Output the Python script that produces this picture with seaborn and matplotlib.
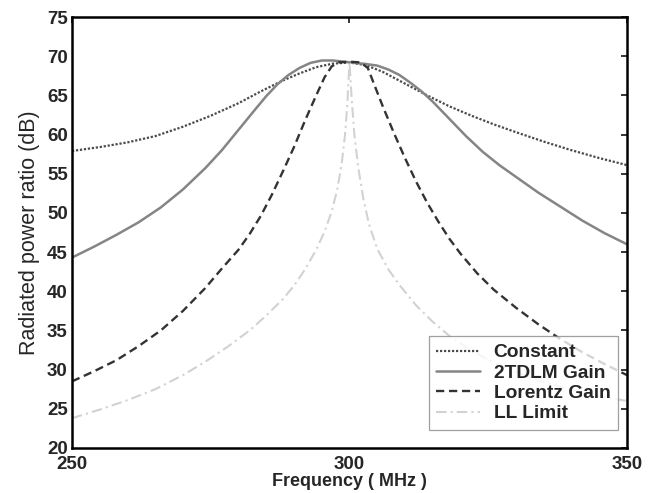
import numpy as np
import pandas as pd
import matplotlib
matplotlib.use("Agg")
import matplotlib.pyplot as plt
import seaborn as sns

# values (frequency in MHz, ratio in dB)
const_f = [250, 255, 260, 265, 270, 275, 280, 284, 288, 291, 294, 297, 300, 303, 306, 310,
           314, 318, 322, 326, 330, 335, 340, 345, 350]
const_db = [57.9, 58.4, 59.0, 59.8, 61.0, 62.4, 64.0, 65.5, 66.9, 67.8, 68.6, 69.05, 69.2, 68.85,
            68.0, 66.5, 65.0, 63.6, 62.4, 61.3, 60.3, 59.1, 58.0, 57.0, 56.1]

tdlm_f = [250, 254, 258, 262, 266, 270, 274, 277, 280, 283, 285, 287, 289, 291, 293, 295, 297,
          299, 301, 303, 305, 307, 309, 311, 313, 315, 318, 321, 324, 327, 330, 334, 338, 342,
          346, 350]
tdlm_db = [44.3, 45.7, 47.2, 48.8, 50.7, 53.0, 55.7, 58.0, 60.6, 63.2, 64.9, 66.4, 67.6, 68.5,
           69.15, 69.45, 69.45, 69.3, 69.15, 69.0, 68.8, 68.3, 67.6, 66.6, 65.5, 64.2, 62.0, 59.8,
           57.8, 56.1, 54.6, 52.6, 50.8, 49.0, 47.4, 46.0]

lor_f = [250, 254, 258, 262, 266, 270, 274, 277, 280, 282, 284, 286, 288, 290, 292, 294, 295.5,
         296.8, 298, 300, 302, 303.3, 304.5, 306, 308, 310, 312, 314, 316, 318, 320, 323, 326,
         330, 334, 338, 342, 346, 350]
lor_db = [28.5, 29.8, 31.2, 33.0, 35.0, 37.5, 40.4, 42.9, 45.3, 47.3, 49.6, 52.3, 55.3, 58.4,
          61.8, 65.0, 67.3, 68.7, 69.2, 69.3, 69.2, 68.5, 66.3, 63.6, 60.2, 57.0, 54.0, 51.3, 48.9,
          46.7, 44.8, 42.3, 40.2, 37.9, 35.8, 33.9, 32.2, 30.7, 29.3]

ll_f = [250, 255, 260, 265, 270, 274, 278, 282, 285, 288, 290, 292, 294, 295.5, 296.8, 297.8,
        298.6, 299.2, 299.6, 300, 300.4, 300.9, 301.6, 302.5, 303.5, 305, 307, 309, 312, 315,
        318, 322, 326, 330, 335, 340, 345, 350]
ll_db = [23.8, 24.9, 26.1, 27.5, 29.3, 31.0, 32.9, 35.0, 36.9, 39.0, 40.7, 42.8, 45.3, 47.6,
         50.2, 53.0, 56.3, 60.0, 63.8, 69.2, 64.5, 59.8, 55.7, 51.8, 48.6, 45.4, 42.8, 40.8, 38.2,
         36.1, 34.3, 32.4, 30.9, 29.7, 28.4, 27.4, 26.6, 26.0]

labels = ["Constant", "2TDLM Gain", "Lorentz Gain", "LL Limit"]

sns.set_style("white")
plt.rcParams["font.family"] = ["Liberation Sans", "DejaVu Sans"]

fig = plt.figure(figsize=(6.57, 4.93), dpi=100)
ax = fig.add_axes([0.1096, 0.0913, 0.8447, 0.8742])

sns.lineplot(x=const_f, y=const_db, ax=ax, color="#4a4a4a", linewidth=1.6,
             linestyle=(0, (1, 0.8)), label=labels[0])
sns.lineplot(x=tdlm_f, y=tdlm_db, ax=ax, color="#858585", linewidth=1.8,
             linestyle="-", label=labels[1])
sns.lineplot(x=lor_f, y=lor_db, ax=ax, color="#333333", linewidth=1.7,
             linestyle=(0, (3.5, 2)), label=labels[2])
sns.lineplot(x=ll_f, y=ll_db, ax=ax, color="#d2d2d2", linewidth=1.5,
             linestyle=(0, (5, 2, 1, 2)), label=labels[3])

ax.set_xlim(250, 350)
ax.set_ylim(20, 75)
ax.set_xticks([250, 300, 350])
ax.set_yticks(range(20, 80, 5))
ax.tick_params(direction="in", length=4.5, width=1.3, top=True, right=True, labelsize=13.5)
ax.tick_params(axis="x", pad=6)
ax.tick_params(axis="y", pad=3)
for lab in ax.get_xticklabels() + ax.get_yticklabels():
    lab.set_fontweight("bold")
for s in ax.spines.values():
    s.set_linewidth(1.8)
    s.set_color("black")

ax.set_xlabel("Frequency ( MHz )", fontsize=13, fontweight="bold", labelpad=0)
ax.set_ylabel("Radiated power ratio (dB)", fontsize=15.5, labelpad=5)

leg = ax.legend(loc="lower right", bbox_to_anchor=(0.984, 0.042), borderaxespad=0,
                fancybox=False, frameon=True, handlelength=2.3, handletextpad=0.7,
                labelspacing=0.15, borderpad=0.4, prop={"size": 13.8, "weight": "bold"})
leg.get_frame().set_edgecolor("#888888")
leg.get_frame().set_linewidth(0.9)

fig.savefig("out.png", dpi=100)
